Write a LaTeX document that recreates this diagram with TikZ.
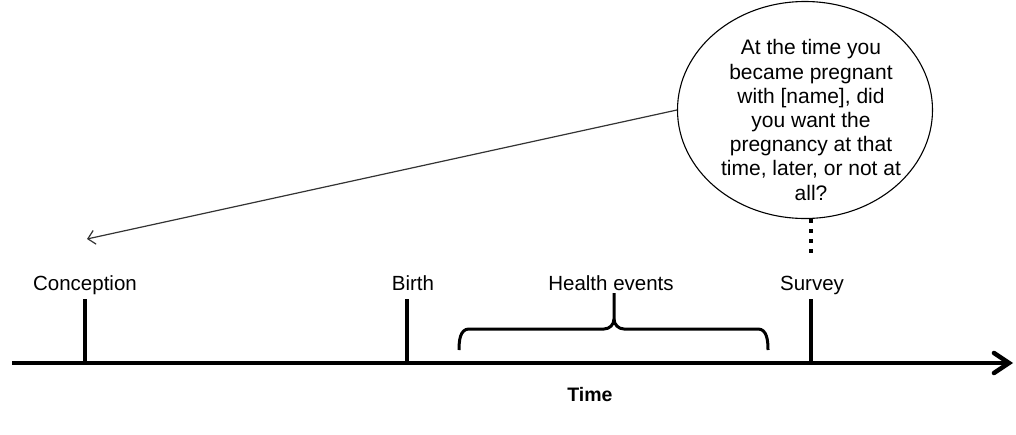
\documentclass[tikz,border=0pt]{standalone}
\usepackage{fontspec}
\setmainfont{Liberation Sans}
\usetikzlibrary{arrows.meta,shapes.geometric}
\begin{document}
\begin{tikzpicture}[x=1pt,y=-1pt,
  lbl/.style={font=\fontsize{20.5}{24}\selectfont, inner sep=0pt, anchor=base},
  tick/.style={line width=4pt},
  axis/.style={line width=4.5pt, -{Straight Barb[length=15pt,width=20pt,line cap=round]}},
  bracestyle/.style={line width=3pt},
  qbubble/.style={ellipse, draw, line width=1.1pt, minimum width=255pt, minimum height=217pt, inner sep=0pt},
  pointer/.style={draw=black!80, line width=1.2pt, -{Straight Barb[length=7pt,width=14pt]}},
  dotted link/.style={line width=4pt, dash pattern=on 4pt off 6pt}
]
\useasboundingbox (0,0) rectangle (1016,434);
% axis
\coordinate (axstart) at (12,363);
\coordinate (axend) at (1013,363);
\draw[axis] (axstart) -- (axend);
% ticks
\coordinate (c1) at (85,299); \coordinate (c0) at (85,363);
\coordinate (b1) at (407,299); \coordinate (b0) at (407,363);
\coordinate (s1) at (811,299); \coordinate (s0) at (811,363);
\draw[tick] (c1) -- (c0);
\draw[tick] (b1) -- (b0);
\draw[tick] (s1) -- (s0);
% labels
\node[lbl] (conc) at (85,290) {Conception};
\node[lbl] (birth) at (413,290) {Birth};
\node[lbl] (health) at (611,290) {Health events};
\node[lbl] (survey) at (812,290) {Survey};
\node[font=\fontsize{19.5}{22}\selectfont\bfseries, inner sep=0pt, anchor=base] (time) at (590,401) {Time};
% brace
\coordinate (brL) at (459,350);
\coordinate (brR) at (768,350);
\coordinate (brT) at (614,293);
\coordinate (brM) at (614,319);
\draw[bracestyle] (brL) to[out=90,in=180] (469,329) -- (604,329) to[out=0,in=-90] (brM) -- (brT);
\draw[bracestyle] (brR) to[out=90,in=0] (758,329) -- (624,329) to[out=180,in=-90] (brM);
% bubble
\node[qbubble] (q) at (805,110) {};
\node[font=\fontsize{21}{24.2}\selectfont, align=center, inner sep=0pt, anchor=base] (qt) at (811,200)
 {At the time you\\became pregnant\\with [name], did\\you want the\\pregnancy at that\\time, later, or not at\\all?};
% pointer
\coordinate (tip) at (87,239);
\draw[pointer] (q.west) -- (tip);
% dotted link
\coordinate (dotend) at (811,256);
\draw[dotted link] (q.south -| dotend) -- (dotend);
\end{tikzpicture}
\end{document}
